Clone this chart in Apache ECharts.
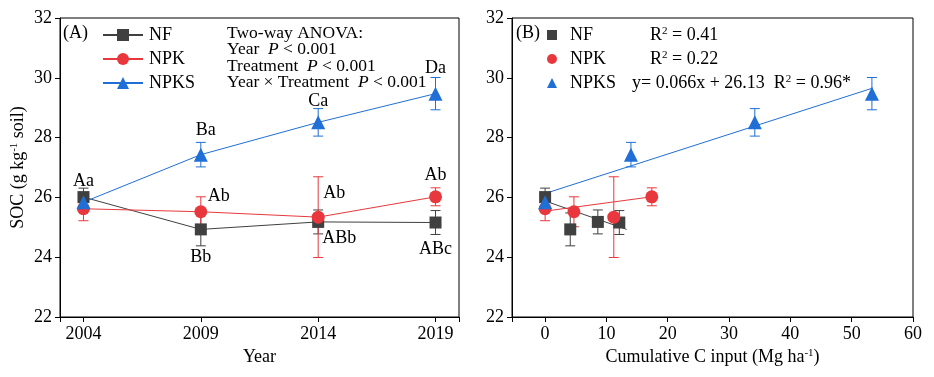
<!DOCTYPE html>
<html>
<head>
<meta charset="utf-8">
<script src="https://cdn.jsdelivr.net/npm/echarts@6.0.0/dist/echarts.min.js"></script>
<style>
  html, body { margin: 0; padding: 0; background: #fff; }
  #chart { width: 934px; height: 377px; }
</style>
</head>
<body>
<div id="chart"></div>
<script>
// values
const years = [2004, 2009, 2014, 2019];
const socNF = [26.01, 24.93, 25.18, 25.16];
const socNPK = [25.62, 25.52, 25.34, 26.02];
const socNPKS = [25.84, 27.43, 28.51, 29.47];
const errNF = [0.30, 0.55, 0.40, 0.40];
const errNPK = [0.40, 0.50, 1.35, 0.30];
const errNPKS = [0.20, 0.41, 0.46, 0.54];
const lettersNF = ['Aa', 'Bb', 'ABb', 'ABc'];
const lettersNPK = ['', 'Ab', 'Ab', 'Ab'];
const lettersNPKS = ['', 'Ba', 'Ca', 'Da'];
// cumulative C input (Mg ha-1)
const cInNF = [0, 4.1, 8.6, 12.1];
const cInNPK = [0, 4.7, 11.2, 17.4];
const cInNPKS = [0, 14.0, 34.2, 53.3];
// regression lines: [slope, intercept, xEnd]
const fitNF = [-0.0714, 25.88, 13.3];
const fitNPK = [0.0276, 25.54, 17.4];
const fitNPKS = [0.066, 26.13, 53.4];
const r2Text = ['R{s|2} = 0.41', 'R{s|2} = 0.22', 'y= 0.066x + 26.13  R{s|2} = 0.96*'];
const xTicksC = [0, 10, 20, 30, 40, 50, 60];

const colors = { NF: '#404040', NPK: '#e8383d', NPKS: '#1f6fd6' };
const font = 'Liberation Serif';
const fs = 18;

let chart = echarts.init(document.getElementById('chart'));

function errorSeries(name, xs, ys, es, xi) {
  return {
    name: name + ' err',
    type: 'custom',
    xAxisIndex: xi, yAxisIndex: xi,
    z: 1,
    silent: true,
    data: xs.map((x, i) => [x, ys[i] - es[i], ys[i] + es[i]]),
    renderItem: function (params, api) {
      let lo = api.coord([api.value(0), api.value(1)]);
      let hi = api.coord([api.value(0), api.value(2)]);
      let w = 5;
      let st = { stroke: colors[name], lineWidth: 1 };
      return {
        type: 'group',
        children: [
          { type: 'line', shape: { x1: lo[0], y1: lo[1], x2: hi[0], y2: hi[1] }, style: st },
          { type: 'line', shape: { x1: lo[0] - w, y1: lo[1], x2: lo[0] + w, y2: lo[1] }, style: st },
          { type: 'line', shape: { x1: hi[0] - w, y1: hi[1], x2: hi[0] + w, y2: hi[1] }, style: st }
        ]
      };
    }
  };
}

function labelled(ys, letters, offsets) {
  return ys.map((y, i) => {
    let item = { value: [years[i], y] };
    if (letters[i]) {
      item.label = {
        show: true, position: 'inside', offset: offsets[i],
        formatter: letters[i], color: '#000', fontSize: fs, fontFamily: font
      };
    }
    return item;
  });
}

function fitLine(name, f) {
  return {
    name: name + ' fit', type: 'line', xAxisIndex: 1, yAxisIndex: 1,
    showSymbol: false, silent: true, z: 1,
    lineStyle: { color: colors[name], width: 1 },
    data: [[0, f[1]], [f[2], f[0] * f[2] + f[1]]]
  };
}

function scatter(name, symbol, size, xs, ys) {
  return {
    name: name, type: 'scatter', xAxisIndex: 1, yAxisIndex: 1,
    symbol: symbol, symbolSize: size, color: colors[name],
    itemStyle: { opacity: 1 },
    data: xs.map((x, i) => [x, ys[i]])
  };
}

const supStyle = { fontSize: 11, verticalAlign: 'top', lineHeight: 10, fontFamily: font, color: '#000' };

const axisBase = {
  axisLine: { show: true, onZero: false, lineStyle: { color: '#000', width: 1 } },
  axisTick: { show: true, inside: false, length: 5, lineStyle: { color: '#000' } },
  axisLabel: { color: '#000', fontSize: fs, fontFamily: font, margin: 8 },
  splitLine: { show: false },
  nameTextStyle: { color: '#000', fontSize: fs, fontFamily: font, rich: { s: supStyle } }
};

let option = {
  backgroundColor: '#fff',
  animation: false,
  grid: [
    { left: 60, top: 18, width: 399, height: 299, show: true, borderColor: '#000', borderWidth: 1 },
    { left: 512, top: 18, width: 401, height: 299, show: true, borderColor: '#000', borderWidth: 1 }
  ],
  xAxis: [
    Object.assign({}, axisBase, {
      gridIndex: 0, type: 'value', min: 2003, max: 2020,
      name: 'Year', nameLocation: 'middle', nameGap: 31,
      axisTick: Object.assign({}, axisBase.axisTick, { customValues: [2003].concat(years, [2020]) }),
      axisLabel: Object.assign({}, axisBase.axisLabel, {
        customValues: years, formatter: v => String(v)
      })
    }),
    Object.assign({}, axisBase, {
      gridIndex: 1, type: 'value', min: -5.4, max: 60,
      name: 'Cumulative C input (Mg ha{s|-1})', nameLocation: 'middle', nameGap: 31,
      axisTick: Object.assign({}, axisBase.axisTick, { customValues: [-5.4].concat(xTicksC) }),
      axisLabel: Object.assign({}, axisBase.axisLabel, { customValues: xTicksC })
    })
  ],
  yAxis: [
    Object.assign({}, axisBase, {
      gridIndex: 0, type: 'value', min: 22, max: 32, interval: 2,
      name: 'SOC (g kg{s|-1} soil)', nameLocation: 'middle', nameGap: 33
    }),
    Object.assign({}, axisBase, {
      gridIndex: 1, type: 'value', min: 22, max: 32, interval: 2
    })
  ],
  legend: [
    {
      data: ['NF', 'NPK', 'NPKS'], orient: 'vertical', left: 97, top: 21,
      itemWidth: 40, itemHeight: 15, itemGap: 6, selectedMode: false,
      textStyle: { color: '#000', fontSize: fs, fontFamily: font, lineHeight: 18, padding: [0, 0, 0, 1] }
    },
    {
      data: [{ name: 'NF', icon: 'rect' }, { name: 'NPK', icon: 'circle' }, { name: 'NPKS', icon: 'triangle' }],
      orient: 'vertical', left: 542, top: 21,
      itemWidth: 10, itemHeight: 10, itemGap: 6, selectedMode: false,
      formatter: function (name) {
        let i = ['NF', 'NPK', 'NPKS'].indexOf(name);
        return '{g|}{' + (i === 2 ? 'm' : 'n') + '|' + name + '}' + r2Text[i];
      },
      textStyle: {
        color: '#000', fontSize: fs, fontFamily: font, lineHeight: 18,
        rich: {
          g: { width: 8 },
          n: { width: 80, fontSize: fs, fontFamily: font, color: '#000' },
          m: { width: 62, fontSize: fs, fontFamily: font, color: '#000' },
          s: supStyle
        }
      }
    }
  ],
  graphic: [
    { type: 'text', left: 63, top: 24, style: { text: '(A)', fontSize: fs, fontFamily: font, fill: '#000' } },
    { type: 'text', left: 516, top: 24, style: { text: '(B)', fontSize: fs, fontFamily: font, fill: '#000' } },
    {
      type: 'text', left: 227, top: 24,
      style: {
        text: 'Two-way ANOVA:\nYear  {i|P} < 0.001\nTreatment  {i|P} < 0.001\nYear × Treatment  {i|P} < 0.001',
        fontSize: 17.5, fontFamily: font, fill: '#000', lineHeight: 16.5,
        rich: { i: { fontStyle: 'italic', fontSize: 17.5, fontFamily: font, fill: '#000', lineHeight: 16.5 } }
      }
    }
  ],
  series: [
    errorSeries('NF', years, socNF, errNF, 0),
    errorSeries('NPK', years, socNPK, errNPK, 0),
    errorSeries('NPKS', years, socNPKS, errNPKS, 0),
    {
      name: 'NF', type: 'line', xAxisIndex: 0, yAxisIndex: 0,
      symbol: 'rect', symbolSize: 12, color: colors.NF,
      lineStyle: { width: 1 },
      data: labelled(socNF, lettersNF, [[0, -16], [0, 28], [21, 16], [0, 27]])
    },
    {
      name: 'NPK', type: 'line', xAxisIndex: 0, yAxisIndex: 0,
      symbol: 'circle', symbolSize: 13, color: colors.NPK,
      lineStyle: { width: 1 },
      data: labelled(socNPK, lettersNPK, [[0, 0], [18, -15], [16, -24], [0, -22]])
    },
    {
      name: 'NPKS', type: 'line', xAxisIndex: 0, yAxisIndex: 0,
      symbol: 'triangle', symbolSize: 14, color: colors.NPKS,
      lineStyle: { width: 1 },
      data: labelled(socNPKS, lettersNPKS, [[0, 0], [5, -24], [0, -21], [0, -25]])
    },
    errorSeries('NF', cInNF, socNF, errNF, 1),
    errorSeries('NPK', cInNPK, socNPK, errNPK, 1),
    errorSeries('NPKS', cInNPKS, socNPKS, errNPKS, 1),
    fitLine('NF', fitNF),
    fitLine('NPK', fitNPK),
    fitLine('NPKS', fitNPKS),
    scatter('NF', 'rect', 12, cInNF, socNF),
    scatter('NPK', 'circle', 13, cInNPK, socNPK),
    scatter('NPKS', 'triangle', 14, cInNPKS, socNPKS)
  ]
};

chart.setOption(option);
</script>
</body>
</html>
